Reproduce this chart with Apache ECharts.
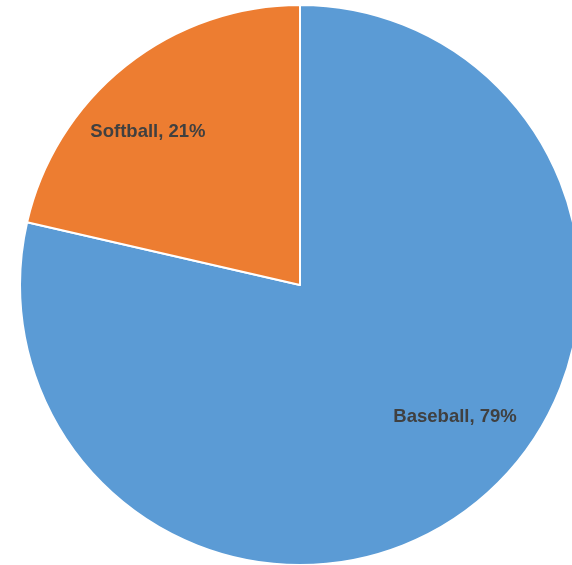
<!DOCTYPE html>
<html>
<head>
<meta charset="utf-8">
<script src="https://cdn.jsdelivr.net/npm/echarts@6/dist/echarts.min.js"></script>
<style>html,body{margin:0;padding:0;background:#fff;}#c{width:572px;height:565px;}</style>
</head>
<body>
<div id="c"></div>
<script>
var categories = ['Baseball', 'Softball'];
var values = [78.6, 21.4];
var colors = ['#5B9BD5', '#ED7D31'];
var labelOffsets = [[66, 20], [-63, -41]];

var chart = echarts.init(document.getElementById('c'), null, {renderer: 'canvas'});
var data = categories.map(function (n, i) {
  return {name: n, value: values[i], itemStyle: {color: colors[i]}, label: {offset: labelOffsets[i]}};
});
chart.setOption({
  animation: false,
  backgroundColor: '#ffffff',
  series: [{
    type: 'pie',
    center: [300, 285],
    radius: [0, 280],
    startAngle: 90,
    clockwise: true,
    data: data,
    itemStyle: {borderColor: '#ffffff', borderWidth: 2},
    label: {
      show: true,
      position: 'inside',
      formatter: function (p) { return p.name + ', ' + Math.round(p.percent) + '%'; },
      color: '#404040',
      fontFamily: 'Liberation Sans, Arial, sans-serif',
      fontSize: 18.5,
      fontWeight: 'bold'
    },
    labelLine: {show: false},
    emphasis: {disabled: true}
  }]
});
</script>
</body>
</html>
